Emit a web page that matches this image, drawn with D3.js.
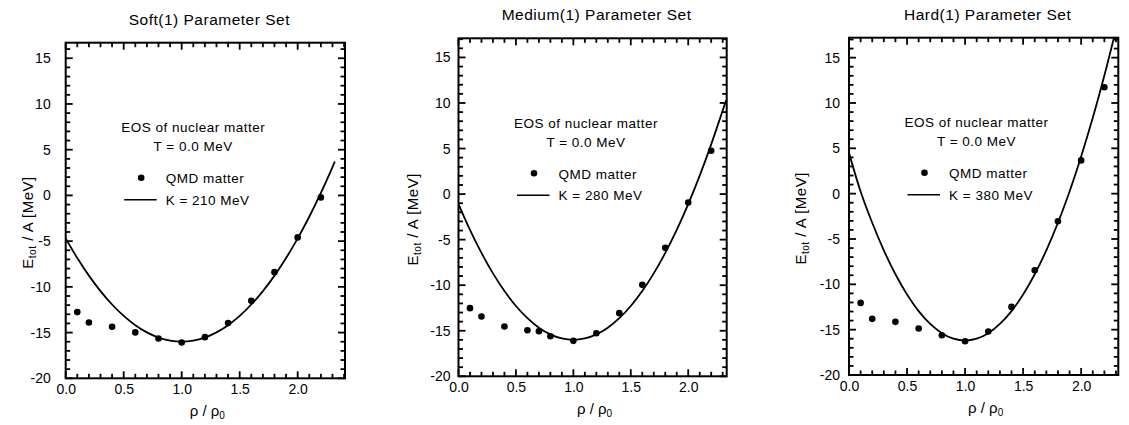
<!DOCTYPE html>
<html>
<head>
<meta charset="utf-8">
<script src="https://cdn.jsdelivr.net/npm/d3@7"></script>
<style>
  html, body { margin: 0; padding: 0; background: #fff; }
  svg { display: block; }
</style>
</head>
<body>
<svg id="chart" width="1129" height="425"></svg>
<script>
// ---------- data ----------
const titles = ["Soft(1) Parameter Set", "Medium(1) Parameter Set", "Hard(1) Parameter Set"];
const kLabels = ["K = 210 MeV", "K = 280 MeV", "K = 380 MeV"];
const xTickValues = [0, 0.5, 1.0, 1.5, 2.0];
const xTickLabels = ["0.0", "0.5", "1.0", "1.5", "2.0"];
const yTickValues = [-20, -15, -10, -5, 0, 5, 10, 15];
const yTickLabels = ["-20", "-15", "-10", "-5", "0", "5", "10", "15"];

const qmdRhoSoft = [0.1, 0.2, 0.4, 0.6, 0.8, 1.0, 1.2, 1.4, 1.6, 1.8, 2.0, 2.2];
const qmdESoft   = [-12.76, -13.89, -14.36, -14.98, -15.64, -16.08, -15.5, -13.96, -11.52, -8.39, -4.59, -0.22];
const qmdRhoMedium = [0.1, 0.2, 0.4, 0.6, 0.7, 0.8, 1.0, 1.2, 1.4, 1.6, 1.8, 2.0, 2.2];
const qmdEMedium   = [-12.52, -13.44, -14.54, -14.94, -15.05, -15.6, -16.11, -15.27, -13.07, -9.96, -5.9, -0.92, 4.76];
const qmdRhoHard = [0.1, 0.2, 0.4, 0.6, 0.8, 1.0, 1.2, 1.4, 1.6, 1.8, 2.0, 2.2];
const qmdEHard   = [-12.05, -13.81, -14.14, -14.87, -15.61, -16.27, -15.2, -12.49, -8.45, -3.05, 3.67, 11.74];

const curveRhoSoft = [0, 0.1, 0.2, 0.3, 0.4, 0.5, 0.6, 0.7, 0.8, 0.9, 1.0, 1.1, 1.2, 1.3, 1.4, 1.5, 1.6, 1.7, 1.8, 1.9, 2.0, 2.1, 2.2, 2.3, 2.32];
const curveESoft   = [-4.7, -6.85, -8.77, -10.46, -11.93, -13.18, -14.19, -14.98, -15.55, -15.89, -16.0, -15.89, -15.55, -14.98, -14.19, -13.18, -11.93, -10.46, -8.77, -6.85, -4.7, -2.33, 0.27, 3.1, 3.7];
const curveRhoMedium = [0, 0.1, 0.2, 0.3, 0.4, 0.5, 0.6, 0.7, 0.8, 0.9, 1.0, 1.1, 1.2, 1.3, 1.4, 1.5, 1.6, 1.7, 1.8, 1.9, 2.0, 2.1, 2.2, 2.3, 2.33];
const curveEMedium   = [-1.1, -3.93, -6.46, -8.7, -10.64, -12.28, -13.62, -14.66, -15.4, -15.85, -16.0, -15.85, -15.4, -14.66, -13.62, -12.28, -10.64, -8.7, -6.46, -3.93, -1.1, 2.03, 5.46, 9.18, 10.3];
const curveRhoHard = [0, 0.1, 0.2, 0.3, 0.4, 0.5, 0.6, 0.7, 0.8, 0.9, 1.0, 1.1, 1.2, 1.3, 1.4, 1.5, 1.6, 1.7, 1.8, 1.9, 2.0, 2.1, 2.2, 2.3];
const curveEHard   = [4.5, 0.24, -3.21, -6.25, -8.89, -11.12, -12.95, -14.37, -15.39, -16.0, -16.2, -16.0, -15.39, -14.37, -12.95, -11.12, -8.89, -6.25, -3.21, 0.24, 4.1, 8.36, 13.03, 18.1];

// ---------- layout ----------
const panels = [
  { l: 65.7, r: 345, t: 42.7, b: 378.3, xMax: 2.408, yMax: 16.7, labGap: 15, yLabX: -33,
    qr: qmdRhoSoft, qe: qmdESoft, cr: curveRhoSoft, ce: curveESoft },
  { l: 458.5, r: 726.7, t: 38.3, b: 376.3, xMax: 2.335, yMax: 17.1, labGap: 8, yLabX: -41,
    qr: qmdRhoMedium, qe: qmdEMedium, cr: curveRhoMedium, ce: curveEMedium },
  { l: 849, r: 1118.3, t: 37.7, b: 375, xMax: 2.32, yMax: 17.2, labGap: 9, yLabX: -43.5,
    qr: qmdRhoHard, qe: qmdEHard, cr: curveRhoHard, ce: curveEHard }
];

const FONT = "'Liberation Sans', Arial, Helvetica, sans-serif";
const svg = d3.select("#chart").attr("font-family", FONT);
const defs = svg.append("defs");
const MAJ = 7, MIN = 4.5, TW = 1.8;

panels.forEach((p, i) => {
  const x = d3.scaleLinear().domain([0, p.xMax]).range([p.l, p.r]);
  const y = d3.scaleLinear().domain([-20, p.yMax]).range([p.b, p.t]);
  const g = svg.append("g");
  const w = p.r - p.l, h = p.b - p.t;

  const xMinor = d3.range(1, Math.floor(p.xMax * 10 + 1e-6) + 1).map(k => k / 10)
    .filter(v => !xTickValues.some(t => Math.abs(t - v) < 1e-6));
  const yMinor = d3.range(-19, Math.floor(p.yMax) + 1).filter(v => !yTickValues.includes(v));

  // tick labels via d3 axes
  const xa = g.append("g").attr("transform", `translate(0,${p.b})`)
    .call(d3.axisBottom(x).tickValues(xTickValues).tickSize(0).tickPadding(6)
      .tickFormat((d, k) => xTickLabels[k]));
  const ya = g.append("g").attr("transform", `translate(${p.l},0)`)
    .call(d3.axisLeft(y).tickValues(yTickValues).tickSize(0).tickPadding(p.labGap)
      .tickFormat((d, k) => yTickLabels[k]));
  [xa, ya].forEach(a => {
    a.select(".domain").remove();
    a.selectAll(".tick line").remove();
    a.selectAll(".tick text").attr("font-size", 14).attr("fill", "#000").attr("font-family", FONT);
  });

  // frame
  g.append("rect").attr("x", p.l).attr("y", p.t).attr("width", w).attr("height", h)
    .attr("fill", "none").attr("stroke", "#000").attr("stroke-width", 2);

  // tick marks (inward, on all four sides) as small filled rects
  const xt = xTickValues.map(v => [v, MAJ]).concat(xMinor.map(v => [v, MIN]));
  const yt = yTickValues.map(v => [v, MAJ]).concat(yMinor.map(v => [v, MIN]));
  const tg = g.append("g").attr("fill", "#000");
  tg.selectAll("rect.xb").data(xt).enter().append("rect").attr("class", "xb")
    .attr("x", d => x(d[0]) - TW / 2).attr("y", d => p.b - d[1]).attr("width", TW).attr("height", d => d[1]);
  tg.selectAll("rect.xt").data(xt).enter().append("rect").attr("class", "xt")
    .attr("x", d => x(d[0]) - TW / 2).attr("y", p.t).attr("width", TW).attr("height", d => d[1]);
  tg.selectAll("rect.yl").data(yt).enter().append("rect").attr("class", "yl")
    .attr("x", p.l).attr("y", d => y(d[0]) - TW / 2).attr("width", d => d[1]).attr("height", TW);
  tg.selectAll("rect.yr").data(yt).enter().append("rect").attr("class", "yr")
    .attr("x", d => p.r - d[1]).attr("y", d => y(d[0]) - TW / 2).attr("width", d => d[1]).attr("height", TW);

  // clip
  const cid = "clip" + i;
  defs.append("clipPath").attr("id", cid).append("rect")
    .attr("x", p.l).attr("y", p.t).attr("width", w).attr("height", h);

  // curve
  const line = d3.line().x(d => x(d[0])).y(d => y(d[1])).curve(d3.curveCatmullRom.alpha(0.5));
  g.append("path").datum(p.cr.map((r, k) => [r, p.ce[k]]))
    .attr("clip-path", `url(#${cid})`)
    .attr("d", line).attr("fill", "none").attr("stroke", "#000").attr("stroke-width", 1.8);

  // QMD points
  g.selectAll("circle.q").data(p.qr.map((r, k) => [r, p.qe[k]])).enter()
    .append("circle").attr("class", "q")
    .attr("cx", d => x(d[0])).attr("cy", d => y(d[1])).attr("r", 3.3).attr("fill", "#000");

  // title
  g.append("text").attr("x", (p.l + p.r) / 2 + 4).attr("y", p.t - 18)
    .attr("text-anchor", "middle").attr("font-size", 15.5).attr("letter-spacing", 0.5)
    .text(titles[i]);

  // annotations
  const cx = p.l + 127.5;
  g.append("text").attr("x", cx).attr("y", p.t + 89.5).attr("text-anchor", "middle")
    .attr("font-size", 13.5).attr("letter-spacing", 0.5).text("EOS of nuclear matter");
  g.append("text").attr("x", cx).attr("y", p.t + 108.5).attr("text-anchor", "middle")
    .attr("font-size", 13.5).attr("letter-spacing", 0.5).text("T = 0.0 MeV");
  g.append("circle").attr("cx", p.l + 75.5).attr("cy", p.t + 135).attr("r", 3.3).attr("fill", "#000");
  g.append("text").attr("x", p.l + 100).attr("y", p.t + 140.5)
    .attr("font-size", 13.5).attr("letter-spacing", 0.5).text("QMD matter");
  g.append("line").attr("x1", p.l + 58.5).attr("x2", p.l + 91).attr("y1", p.t + 157).attr("y2", p.t + 157)
    .attr("stroke", "#000").attr("stroke-width", 1.6);
  g.append("text").attr("x", p.l + 100).attr("y", p.t + 162)
    .attr("font-size", 13.5).attr("letter-spacing", 0.5).text(kLabels[i]);

  // y label
  const yl = g.append("text")
    .attr("transform", `translate(${p.l + p.yLabX},${(p.t + p.b) / 2 + 12}) rotate(-90)`)
    .attr("text-anchor", "middle").attr("font-size", 15).attr("letter-spacing", 0.5);
  yl.append("tspan").text("E");
  yl.append("tspan").attr("font-size", 10).attr("dy", 3).text("tot");
  yl.append("tspan").attr("dy", -3).text(" / A [MeV]");

  // x label
  const xl = g.append("text").attr("x", (p.l + p.r) / 2 + 2).attr("y", p.b + 38)
    .attr("text-anchor", "middle").attr("font-size", 15);
  xl.append("tspan").text("ρ / ρ");
  xl.append("tspan").attr("font-size", 10).attr("dy", 3).text("0");
});
</script>
</body>
</html>
